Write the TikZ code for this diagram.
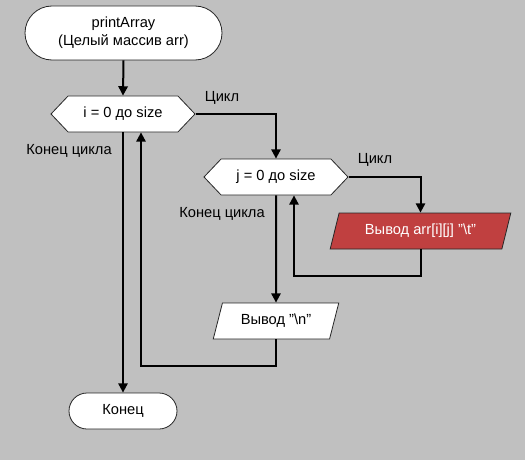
\documentclass[tikz,border=0pt]{standalone}
\usepackage{fontspec}
\setmainfont{Liberation Sans}
\usetikzlibrary{shapes.misc,shapes.symbols,shapes.geometric,arrows.meta}
\definecolor{bggray}{RGB}{192,192,192}
\definecolor{outred}{RGB}{192,64,64}
\tikzset{
  block/.style={draw=black!85, line width=0.6pt, fill=white, inner sep=0pt, font=\fontsize{11}{13.5}\selectfont, align=center},
  term/.style={block, rounded rectangle},
  loop/.style={block, signal, signal to=west and east, signal pointer angle=93, minimum width=108pt, minimum height=27pt},
  io/.style={block, trapezium, trapezium left angle=66, trapezium right angle=114, trapezium stretches=true, minimum height=27pt},
  flow/.style={line width=1.5pt, -{Triangle[width=7pt,length=7pt]}},
  lbl/.style={font=\fontsize{11}{13.5}\selectfont}
}
\begin{document}
\begin{tikzpicture}[x=0.75pt,y=0.75pt]
\fill[bggray] (0,0) rectangle (525,-460);
\useasboundingbox (0,0) rectangle (525,-460);

\node[term, minimum width=147.75pt, minimum height=40.5pt] (start) at (123.5,-33) {printArray\\(Целый массив arr)};
\node[loop] (iloop) at (123,-114) {i = 0 до size};
\node[loop] (jloop) at (276,-177) {j = 0 до size};
\node[io, fill=outred, text=white, minimum width=135.75pt] (outel) at (420.5,-231) {Вывод arr[i][j] "\textbackslash t"};
\node[io, minimum width=94.5pt] (outnl) at (276,-321) {Вывод "\textbackslash n"};
\node[term, minimum width=81pt, minimum height=27pt] (stop) at (123,-411) {Конец};

\node[lbl] at (222,-98) {Цикл};
\node[lbl] at (375,-160) {Цикл};
\node[lbl] at (69,-151) {Конец цикла};
\node[lbl] at (222,-214) {Конец цикла};

%------------------------------------------------
\draw[flow] (start.south) -- (iloop.north);
\draw[flow] (iloop.east) -| (jloop.north);
\draw[flow] (jloop.east) -| (outel.north);
\draw[flow] (outel.south) -- ++(0,-27) -| ([xshift=13.5pt]jloop.south);
\draw[flow] (jloop.south) -- (outnl.north);
\draw[flow] (outnl.south) -- ++(0,-27) -| ([xshift=13.5pt]iloop.south);
\draw[flow] (iloop.south) -- (stop.north);
\end{tikzpicture}
\end{document}
